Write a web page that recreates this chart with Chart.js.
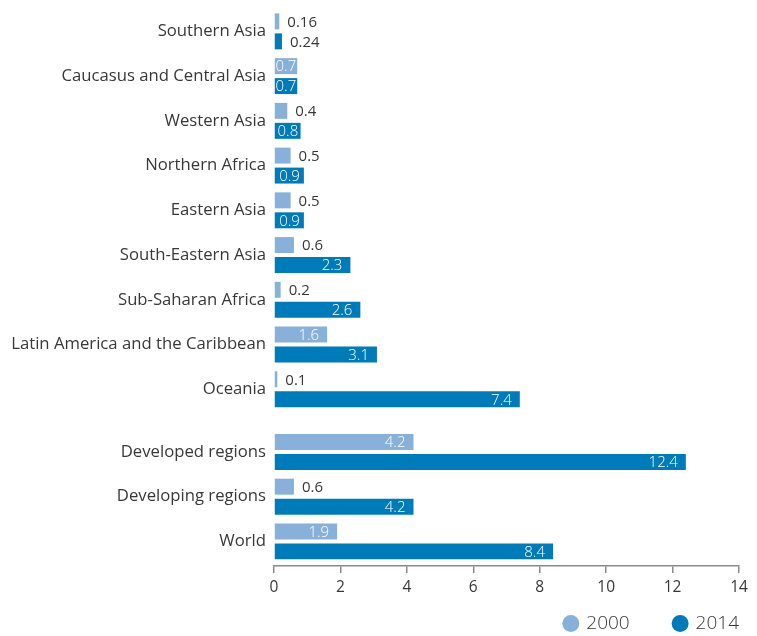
<!DOCTYPE html>
<html>
<head>
<meta charset="utf-8">
<script src="https://cdn.jsdelivr.net/npm/chart.js@4/dist/chart.umd.min.js"></script>
<style>
  html, body { margin: 0; padding: 0; background: #fff; }
  #wrap { width: 757px; height: 636px; }
</style>
</head>
<body>
<div id="wrap"><canvas id="chart" width="757" height="636"></canvas></div>
<script>
// MDG regions, then the aggregate groups (drawn after a small gap)
const regions = ['Southern Asia', 'Caucasus and Central Asia', 'Western Asia', 'Northern Africa',
  'Eastern Asia', 'South-Eastern Asia', 'Sub-Saharan Africa', 'Latin America and the Caribbean', 'Oceania'];
const aggregates = ['Developed regions', 'Developing regions', 'World'];

const values2000 = [0.16, 0.7, 0.4, 0.5, 0.5, 0.6, 0.2, 1.6, 0.1, 4.2, 0.6, 1.9];
const values2014 = [0.24, 0.7, 0.8, 0.9, 0.9, 2.3, 2.6, 3.1, 7.4, 12.4, 4.2, 8.4];

const xTicks = [0, 2, 4, 6, 8, 10, 12, 14];

const labels = regions.concat(aggregates);
const groupGap = 0.4;
// row index along the y axis, with the extra gap before the aggregates
const rows = labels.map((_, i) => i < regions.length ? i : i + groupGap);

const light = '#89b0d9';
const dark = '#007bba';
const textColor = '#383838';

Chart.defaults.font.family = '"Open Sans", sans-serif';
Chart.defaults.color = textColor;

// value labels: white inside the bar when they fit, dark just past the end otherwise
const valueLabels = {
  id: 'valueLabels',
  afterDatasetsDraw(chart) {
    const ctx = chart.ctx;
    ctx.save();
    ctx.textBaseline = 'middle';
    chart.data.datasets.forEach((ds, di) => {
      const meta = chart.getDatasetMeta(di);
      meta.data.forEach((bar, i) => {
        const txt = String(ds.data[i].x);
        ctx.font = '15px "Open Sans", sans-serif';
        const w = ctx.measureText(txt).width;
        const len = bar.x - bar.base;
        if (len >= w) {
          ctx.font = '300 15px "Open Sans", sans-serif';
          ctx.fillStyle = '#ffffff';
          ctx.textAlign = 'right';
          ctx.fillText(txt, bar.x - Math.max(1, Math.min(8, (len - w) / 2)), bar.y + 1);
        } else {
          ctx.fillStyle = textColor;
          ctx.textAlign = 'left';
          ctx.fillText(txt, bar.x + 8, bar.y + 1);
        }
      });
    });
    ctx.restore();
  }
};

new Chart(document.getElementById('chart'), {
  type: 'bar',
  data: {
    datasets: [
      { label: '2000', data: values2000.map((v, i) => ({ x: v, y: rows[i] })), backgroundColor: light, borderWidth: 0 },
      { label: '2014', data: values2014.map((v, i) => ({ x: v, y: rows[i] })), backgroundColor: dark, borderWidth: 0 }
    ]
  },
  options: {
    indexAxis: 'y',
    responsive: false,
    animation: false,
    categoryPercentage: 0.893,
    barPercentage: 0.8,
    layout: { padding: { top: 9, right: 18, bottom: -7, left: 0 } },
    scales: {
      y: {
        type: 'linear',
        reverse: true,
        offset: false,
        min: -0.5,
        max: 11.95,
        afterBuildTicks: (s) => { s.ticks = rows.map(v => ({ value: v })); },
        afterFit: (s) => { s.width = 274; s.paddingTop = 0; s.paddingBottom = 0; },
        grid: { display: false, drawTicks: false },
        border: { display: false },
        ticks: {
          autoSkip: false,
          padding: 8,
          color: textColor,
          font: { size: 16.7 },
          callback: (v, i) => labels[i]
        }
      },
      x: {
        min: 0,
        max: 14,
        afterBuildTicks: (s) => { s.ticks = xTicks.map(v => ({ value: v })); },
        afterFit: (s) => { s.height = 48; },
        grid: { drawOnChartArea: false, drawTicks: true, tickLength: 7, color: '#8a8a8a', lineWidth: 1.5 },
        border: { display: true, color: '#8a8a8a', width: 1.5 },
        ticks: { padding: 5, color: textColor, font: { size: 15.5 } }
      }
    },
    plugins: {
      tooltip: { enabled: false },
      legend: {
        position: 'bottom',
        align: 'end',
        labels: {
          usePointStyle: true,
          pointStyle: 'circle',
          boxWidth: 12,
          boxHeight: 12,
          padding: 0,
          color: textColor,
          font: { size: 19, weight: 300 },
          generateLabels: (chart) => {
            const items = Chart.defaults.plugins.legend.labels.generateLabels(chart);
            items.forEach((it, i) => {
              it.lineWidth = 0;
              if (i < items.length - 1) it.text = it.text + '         ';
            });
            return items;
          }
        }
      }
    }
  },
  plugins: [valueLabels]
});
</script>
</body>
</html>
